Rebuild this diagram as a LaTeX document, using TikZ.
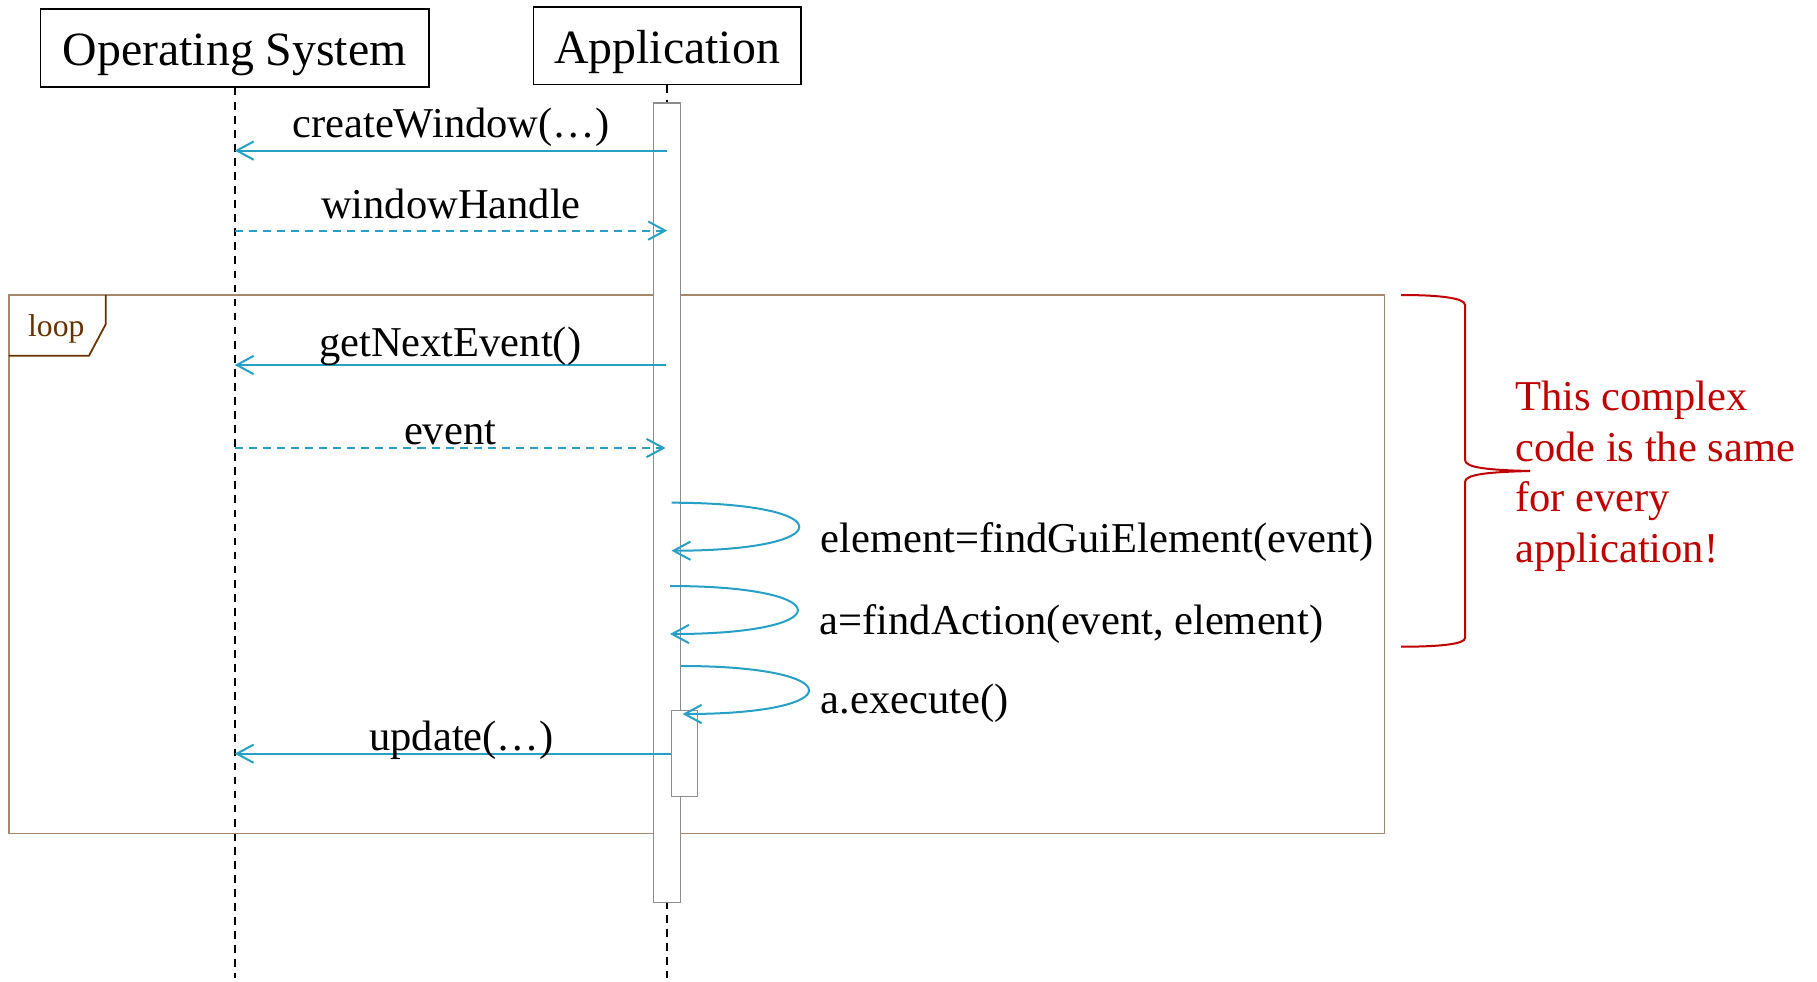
\documentclass[tikz,border=0pt]{standalone}
\usepackage{fontspec}
\setmainfont{Liberation Serif}
\usetikzlibrary{arrows.meta, positioning}
\definecolor{seqblue}{RGB}{38,160,198}
\definecolor{seqred}{RGB}{192,0,0}
\definecolor{framebrown}{RGB}{165,135,105}
\definecolor{tagbrown}{RGB}{102,51,0}
\definecolor{bargrey}{RGB}{140,140,140}

\begin{document}
\begin{tikzpicture}[y=-1cm,
        lifebox/.style={draw, line width=0.48pt, minimum height=0.776cm, inner sep=0pt, text height=0.454cm, text depth=0.104cm, font=\fontsize{13.6}{16}\selectfont},
        lifeline/.style={dash pattern=on 2.2pt off 1.8pt, line width=0.55pt},
        actbar/.style={draw=bargrey, fill=white, line width=0.35pt, inner sep=0pt},
        call/.style={seqblue, line width=0.57pt, -{Straight Barb[length=4.8pt, width=5.2pt]}},
        reply/.style={call, dash pattern=on 2.3pt off 1.7pt},
        msglabel/.style={font=\fontsize{12.1}{14.5}\selectfont, inner sep=0pt, anchor=base, text=black}]

                    \useasboundingbox (0,0) rectangle (18.17,9.81);

                    % participants
                    \node[lifebox, minimum width=3.882cm] (os) at (2.347,0.481) {Operating System};
                    \node[lifebox, minimum width=2.677cm] (app) at (6.672,0.458) {Application};

                    \coordinate (osEnd) at (2.347,9.78);
                    \coordinate (appEnd) at (6.672,9.78);
                    \draw[lifeline] (os) -- (osEnd);
                    \draw[lifeline] (app) -- (appEnd);

                    % loop fragment
                    \draw[framebrown, line width=0.3pt] (0.09,2.95) rectangle (13.848,8.332);
                    \draw[tagbrown, line width=0.5pt] (0.09,3.557) -- (0.89,3.557) -- (1.057,3.243) -- (1.057,2.95);
                    \node[anchor=base, inner sep=0pt, text=tagbrown, font=\fontsize{9}{11}\selectfont] (looptag) at (0.563,3.36) {loop};

                    % activations
                    \node[actbar, minimum width=0.266cm, minimum height=7.997cm] (barA) at (6.669,5.029) {};
                    \node[actbar, minimum width=0.257cm, minimum height=0.86cm] (barB) at (6.844,7.537) {};

                    \coordinate (os1) at (2.347,1.506);
                    \coordinate (app1) at (6.672,1.506);
                    \coordinate (os2) at (2.347,2.306);
                    \coordinate (app2) at (6.672,2.306);
                    \coordinate (os3) at (2.347,3.65);
                    \coordinate (app3) at (6.655,3.65);
                    \coordinate (os4) at (2.347,4.48);
                    \coordinate (app4) at (6.655,4.48);
                    \coordinate (os7) at (2.347,7.537);

                    \draw[call] (app1) -- (os1) node[msglabel, midway, yshift=0.136cm] (lblCreate) {createWindow(…)};
                    \draw[reply] (os2) -- (app2) node[msglabel, midway, yshift=0.12cm] (lblHandle) {windowHandle};
                    \draw[call] (app3) -- (os3) node[msglabel, midway, yshift=0.09cm] (lblNext) {getNextEvent()};
                    \draw[reply] (os4) -- (app4) node[msglabel, midway, yshift=0.035cm] (lblEvent) {event};

                    % self calls
                    \coordinate (find1) at (6.715,5.027);
                    \coordinate (find2) at (6.715,5.507);
                    \coordinate (act1) at (6.70,5.86);
                    \coordinate (act2) at (6.70,6.34);
                    \coordinate (exec1) at (6.812,6.66);
                    \coordinate (exec2) at (6.826,7.14);

                    \draw[call] (find1) .. controls +(1.698,0) and +(1.698,0) .. (find2);
                    \draw[call] (act1) .. controls +(1.70,0) and +(1.70,0) .. (act2);
                    \draw[call] (exec1) .. controls +(1.69,0) and +(1.69,0) .. (exec2);

                    \node[msglabel, anchor=base west] (lblFind) at (8.20,5.527) {element=findGuiElement(event)};
                    \node[msglabel, anchor=base west] (lblAction) at (8.19,6.34) {a=findAction(event, element)};
                    \node[msglabel, anchor=base west] (lblExec) at (8.20,7.13) {a.execute()};

                    \draw[call] (barB.west) -- (os7) node[msglabel, pos=0.48, yshift=0.03cm] (lblUpdate) {update(…)};

                    % comment brace
                    \draw[seqred, line width=0.57pt] (14.01,2.95) .. controls (14.40,2.95) and (14.65,2.98) .. (14.65,3.05)
                        -- (14.65,4.60) .. controls (14.65,4.68) and (14.90,4.70) .. (15.30,4.71)
                        .. controls (14.90,4.72) and (14.65,4.74) .. (14.65,4.82)
                        -- (14.65,6.38) .. controls (14.65,6.44) and (14.40,6.467) .. (14.01,6.467);

                    \node[anchor=north west, inner sep=0pt, align=left, text=seqred, font=\fontsize{12.1}{14.45}\selectfont] (note) at (15.145,3.80)
                        {This complex\\code is the same\\for every\\application!};
            \end{tikzpicture}
\end{document}
